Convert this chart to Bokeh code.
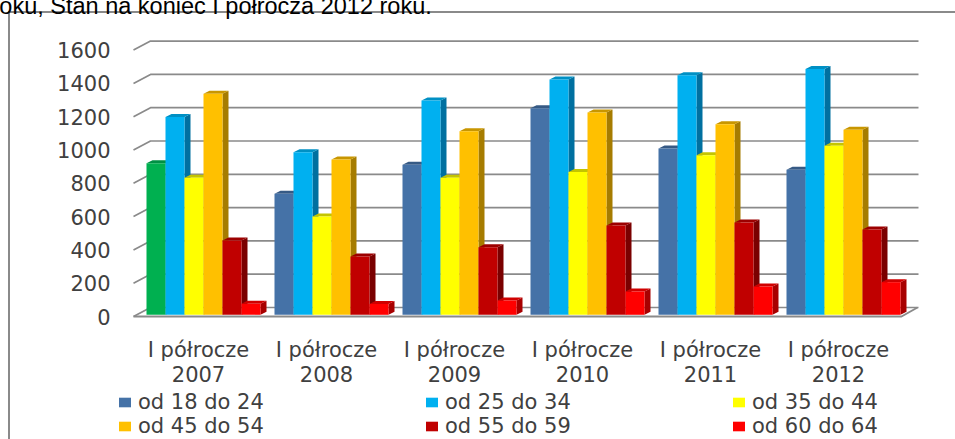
from bokeh.embed import file_html
from bokeh.resources import INLINE
from bokeh.plotting import figure, ColumnDataSource
from bokeh.core.properties import value
from bokeh.models import (Range1d, LinearAxis, FixedTicker, Legend, LegendItem, Title)

periods = ["I półrocze\n2007", "I półrocze\n2008", "I półrocze\n2009", "I półrocze\n2010", "I półrocze\n2011", "I półrocze\n2012"]
y_ticks = [0, 200, 400, 600, 800, 1000, 1200, 1400, 1600]
names = ["od 18 do 24", "od 25 do 34", "od 35 do 44", "od 45 do 54", "od 55 do 59", "od 60 do 64"]
od_18_24 = [910, 727, 901, 1240, 999, 871]
od_25_34 = [1188, 977, 1287, 1413, 1439, 1477]
od_35_44 = [823, 590, 823, 857, 959, 1016]
od_45_54 = [1327, 933, 1103, 1215, 1145, 1111]
od_55_59 = [446, 350, 406, 536, 555, 512]
od_60_64 = [66, 65, 86, 140, 170, 196]
series = [od_18_24, od_25_34, od_35_44, od_45_54, od_55_59, od_60_64]
front = ["#4572A7", "#00B0F0", "#FFFF00", "#FFC000", "#C00000", "#FF0000"]
side = ["#2F4F75", "#0070A0", "#A6A600", "#A67C00", "#7A0000", "#A80000"]
top = ["#365A85", "#0090C4", "#C4C400", "#C89600", "#9C0000", "#D00000"]
first_point = ("#00B050", "#007A38", "#009044")  # the first column of the chart is green
legend_order = [0, 3, 1, 4, 2, 5]  # the legend fills column by column

PXX = 128.0          # px per period
PXY = 0.1665         # px per unit
fx = lambda px: px / PXX
fy = lambda px: px / PXY
bar_w = fx(19)
bar_start = fx(-52)
dx, dy = fx(6), fy(3)        # bar depth
base = fy(1.7)               # bars stand a little behind the front edge
wall_dx, wall_dy = fx(17), fy(9)
floor_l, floor_r = fx(-65), fx(705)
grid = "#8A8A8A"
ink = "#404040"
edge = "linear-gradient(#8A8A8A,#8A8A8A)"

p = figure(width=955, height=459, frame_width=843, frame_height=409, output_backend="svg", toolbar_location=None,
           x_range=Range1d(fx(-86), fx(757)), y_range=Range1d(fy(-123), fy(286)),
           x_axis_type=None, y_axis_type=None, min_border_left=112, min_border_right=0,
           min_border_top=50, min_border_bottom=0, outline_line_color=None,
           border_fill_alpha=0, background_fill_alpha=0,
           margin=(-20, 0, 0, 0),
           styles={"background": f"{edge} 8px 31px/100% 2px no-repeat, {edge} 8px 31px/2px 100% no-repeat"})
p.xgrid.visible = False
p.ygrid.visible = False

# value axis
yax = LinearAxis(ticker=FixedTicker(ticks=y_ticks), axis_line_color=None, major_tick_line_color=None,
                 minor_tick_line_color=None, major_label_text_font="DejaVu Sans",
                 major_label_text_font_size="21px", major_label_text_color=ink, major_label_standoff=-4)
p.add_layout(yax, "left")

# period labels under the floor
p.text(x=list(range(len(periods))), y=[fy(-21)] * len(periods), text=periods, text_font=value("DejaVu Sans"),
       text_font_size="21px", text_color=ink, text_align="center", text_baseline="top", text_line_height=1.08)

# walls: gridlines
p.multi_line([[floor_l, floor_l + wall_dx, floor_r + wall_dx + fx(-2)] for _ in y_ticks],
             [[v, v + wall_dy, v + wall_dy] for v in y_ticks], line_color=grid, line_width=1.7)
# floor
p.line([floor_l, floor_r - fx(2), floor_r - fx(2) + wall_dx - fx(1)], [0, 0, wall_dy], line_color=grid, line_width=2)

renderers = []
for s, vals in enumerate(series):
    left = [i + bar_start + s * bar_w for i in range(len(vals))]
    right = [l + bar_w for l in left]
    fcol = [front[s]] * len(vals)
    scol = [side[s]] * len(vals)
    tcol = [top[s]] * len(vals)
    if s == 0:
        fcol[0], scol[0], tcol[0] = first_point
    b = [base] * len(vals)
    t = [v + base for v in vals]
    p.patches([[r, r + dx, r + dx, r] for r in right],
              [[bb, bb + dy, tt + dy, tt] for bb, tt in zip(b, t)], fill_color=scol, line_color=None)
    p.patches([[l, l + dx, r + dx, r] for l, r in zip(left, right)],
              [[tt, tt + dy, tt + dy, tt] for tt in t], fill_color=tcol, line_color=None)
    src = ColumnDataSource(dict(left=left, right=right, bottom=b, top=t, color=fcol))
    renderers.append(p.quad(left="left", right="right", bottom="bottom", top="top", fill_color="color",
                            line_color=None, source=src))

legend = Legend(items=[LegendItem(label=names[k], renderers=[renderers[k]], index=1) for k in legend_order],
                ncols=3, location=(5, 1), glyph_width=15, glyph_height=12, label_width=286,
                label_text_font="DejaVu Sans", label_text_font_size="21px", label_text_color=ink,
                background_fill_alpha=0, border_line_color=None, spacing=0, padding=0, margin=0,
                label_standoff=6, label_height=22)
p.add_layout(legend, "center")

# the clipped caption line above the slide frame
p.add_layout(Title(text="roku, Stan na koniec I półrocza 2012 roku.", text_font="Liberation Sans",
                   text_font_size="23.5px", text_font_style="normal", text_color="#000000",
                   align="left", vertical_align="top", offset=-121, standoff=20), "above")

open("out.html", "w").write(file_html(p, INLINE))
